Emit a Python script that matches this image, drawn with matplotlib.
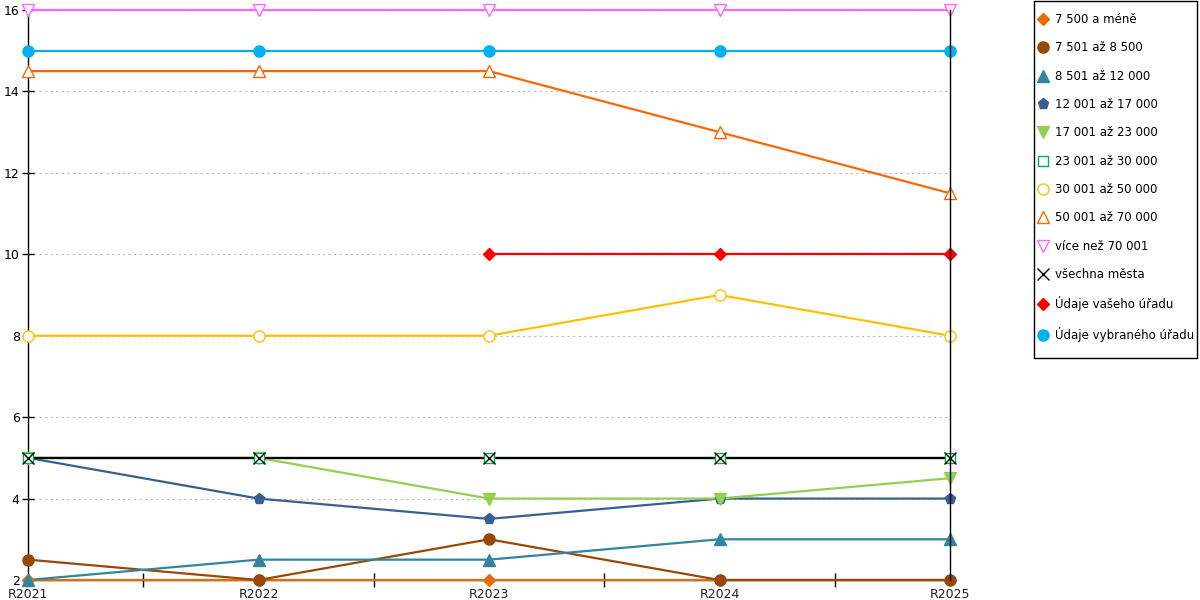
import numpy as np
import matplotlib.pyplot as plt
from matplotlib.lines import Line2D
from matplotlib.patches import Rectangle

# roky a hodnoty jednotlivych velikostnich skupin
roky = ['R2021', 'R2022', 'R2023', 'R2024', 'R2025']

skupina_7500 = [2, 2, 2, 2, 2]
skupina_8500 = [2.5, 2, 3, 2, 2]
skupina_12000 = [2, 2.5, 2.5, 3, 3]
skupina_17000 = [5, 4, 3.5, 4, 4]
skupina_23000 = [5, 5, 4, 4, 4.5]
skupina_30000 = [5, 5, 5, 5, 5]
skupina_50000 = [8, 8, 8, 9, 8]
skupina_70000 = [14.5, 14.5, 14.5, 13, 11.5]
skupina_nad70000 = [16, 16, 16, 16, 16]
vsechna_mesta = [5, 5, 5, 5, 5]
vas_urad = [np.nan, np.nan, 10, 10, 10]
vybrany_urad = [15, 15, 15, 15, 15]

# (popisek, hodnoty, barva, marker, plny marker)
serie = [
    ('7 500 a méně', skupina_7500, '#E46C0A', 'D', True),
    ('7 501 až 8 500', skupina_8500, '#984807', 'o', True),
    ('8 501 až 12 000', skupina_12000, '#31859C', '^', True),
    ('12 001 až 17 000', skupina_17000, '#376092', 'p', True),
    ('17 001 až 23 000', skupina_23000, '#92D050', 'v', True),
    ('23 001 až 30 000', skupina_30000, '#00B050', 's', False),
    ('30 001 až 50 000', skupina_50000, '#FFC000', 'o', False),
    ('50 001 až 70 000', skupina_70000, '#FF6600', '^', False),
    ('více než 70 001', skupina_nad70000, '#FF66FF', 'v', False),
    ('všechna města', vsechna_mesta, '#000000', 'x', True),
    ('Údaje vašeho úřadu', vas_urad, '#FF0000', 'D', True),
    ('Údaje vybraného úřadu', vybrany_urad, '#00B0F0', 'o', True),
]

fig = plt.figure(figsize=(12, 6), dpi=100)
ax = fig.add_axes([28 / 1200, 20 / 600, 922 / 1200, 570 / 600])

x = np.arange(len(roky))
handles = []
for i, (label, vals, barva, mk, plny) in enumerate(serie):
    ms = 8
    if mk == 'x':
        ms = 9
    if mk == 's':
        ms = 7
    if mk == 'D':
        ms = 6
    ax.plot(x, vals, color=barva, lw=1.6, zorder=2, clip_on=False)
    ax.plot(x, vals, ls='none', marker=mk, ms=ms, color=barva,
            markerfacecolor=barva if plny else 'white',
            markeredgecolor=barva, markeredgewidth=1,
            zorder=3 + i * 0.01, clip_on=False)
    handles.append(Line2D([], [], ls='none', marker=mk, ms=ms, color=barva,
                          markerfacecolor=barva if plny else 'white',
                          markeredgecolor=barva, markeredgewidth=1))

ax.set_xlim(0, 4)
ax.set_ylim(2, 16)
ax.set_yticks(np.arange(2, 17, 2))
ax.set_xticks(x)
ax.set_xticklabels(roky)
ax.set_xticks(x[:-1] + 0.5, minor=True)
ax.tick_params(axis='x', which='major', length=0, labelsize=9, pad=6, colors='#222222')
ax.tick_params(axis='x', which='minor', direction='inout', length=10, width=1)
ax.tick_params(axis='y', direction='inout', length=8, width=1, labelsize=9, pad=2)
ax.yaxis.grid(True, ls=(0, (2, 3)), color='#BBBBBB', lw=0.8)
ax.set_axisbelow(True)

ax.spines['top'].set_visible(False)
for s in ('left', 'right', 'bottom'):
    ax.spines[s].set_color('black')
    ax.spines[s].set_linewidth(1)
ax.spines['right'].set_zorder(5)
ax.spines['bottom'].set_zorder(1)

# ramecek legendy zvlast, aby sedel presne
fig.patches.append(Rectangle((1034 / 1200, 1 - 358 / 600), 163 / 1200, 357 / 600,
                             transform=fig.transFigure, fill=False,
                             edgecolor='black', lw=1))
leg = fig.legend(handles, [s[0] for s in serie], loc='upper left',
                 bbox_to_anchor=(1038 / 1200, 1 - 13 / 600),
                 frameon=False, fontsize=8.5, labelspacing=1.3,
                 handlelength=0.9, handletextpad=0.5, borderpad=0,
                 borderaxespad=0)

fig.savefig('out.png', dpi=100)
